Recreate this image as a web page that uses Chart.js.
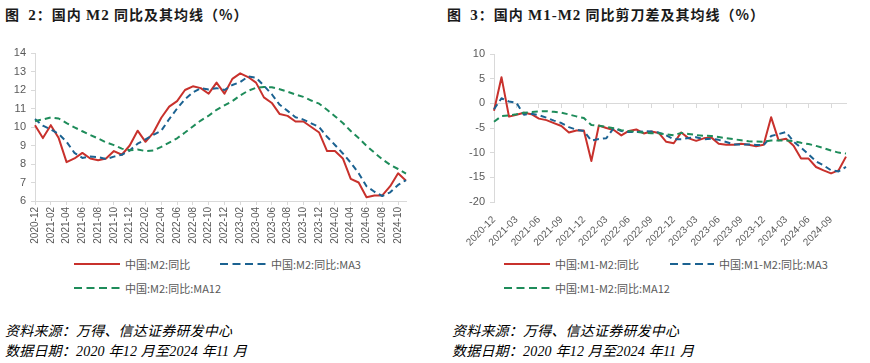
<!DOCTYPE html>
<html>
<head>
<meta charset="utf-8">
<script src="https://cdn.jsdelivr.net/npm/chart.js@4.4.1/dist/chart.umd.min.js"></script>
<style>
  html, body { margin:0; padding:0; background:#ffffff; }
  body { width:870px; height:363px; position:relative; overflow:hidden; }
  .title { position:absolute; top:4px; font-family:"Noto Sans CJK SC", sans-serif; font-weight:700; font-size:14px; letter-spacing:1px; color:#1a1a1a; white-space:nowrap; }
  .title .lat { font-family:"Liberation Serif", serif; font-weight:700; font-size:15px; }
  .box { position:absolute; }
  .leg { position:absolute; font-family:"Noto Sans CJK SC", sans-serif; font-size:11px; color:#595959; white-space:nowrap; line-height:14px; }
  .leg svg { position:absolute; }
  .foot { position:absolute; font-family:"Liberation Serif","Noto Sans CJK SC", serif; font-style:italic; font-size:14px; letter-spacing:0.2px; color:#000; white-space:nowrap; line-height:18px; }
</style>
</head>
<body>
<div class="title" style="left:5px;">图&nbsp;&nbsp;<span class="lat">2</span>：国内&nbsp;<span class="lat">M2</span>&nbsp;同比及其均线（%）</div>
<div class="title" style="left:447px;">图&nbsp;&nbsp;<span class="lat">3</span>：国内&nbsp;<span class="lat">M1-M2</span>&nbsp;同比剪刀差及其均线（%）</div>

<div class="box" style="left:0px; top:40px; width:420px; height:210px;"><canvas id="c1" width="420" height="210"></canvas></div>
<div class="box" style="left:440px; top:40px; width:420px; height:210px;"><canvas id="c2" width="420" height="210"></canvas></div>

<div id="leg1"></div>
<div id="leg2"></div>

<div class="foot" style="left:5px; top:323px;">资料来源：万得、信达证券研发中心</div>
<div class="foot" style="left:5px; top:343px;">数据日期：2020 年12 月至2024 年11 月</div>
<div class="foot" style="left:452px; top:323px;">资料来源：万得、信达证券研发中心</div>
<div class="foot" style="left:452px; top:343px;">数据日期：2020 年12 月至2024 年11 月</div>

<script>
// ---------- data ----------
const months = [
  "2020-12","2021-01","2021-02","2021-03","2021-04","2021-05","2021-06","2021-07","2021-08","2021-09","2021-10","2021-11",
  "2021-12","2022-01","2022-02","2022-03","2022-04","2022-05","2022-06","2022-07","2022-08","2022-09","2022-10","2022-11",
  "2022-12","2023-01","2023-02","2023-03","2023-04","2023-05","2023-06","2023-07","2023-08","2023-09","2023-10","2023-11",
  "2023-12","2024-01","2024-02","2024-03","2024-04","2024-05","2024-06","2024-07","2024-08","2024-09","2024-10","2024-11"
];

const m2Yoy = [10.1,9.4,10.1,9.4,8.1,8.3,8.6,8.3,8.2,8.3,8.7,8.5,
  9.0,9.8,9.2,9.7,10.5,11.1,11.4,12.0,12.2,12.1,11.8,12.4,
  11.8,12.6,12.9,12.7,12.4,11.6,11.3,10.7,10.6,10.3,10.3,10.0,
  9.7,8.7,8.7,8.3,7.2,7.0,6.2,6.3,6.3,6.8,7.5,7.1];

const m2Ma3 = [10.43,10.07,9.87,9.63,9.20,8.60,8.33,8.40,8.37,8.27,8.40,8.50,
  8.73,9.10,9.33,9.57,9.80,10.43,11.00,11.50,11.87,12.10,12.03,12.10,
  12.00,12.27,12.43,12.73,12.67,12.23,11.77,11.20,10.87,10.53,10.40,10.20,
  10.00,9.47,9.03,8.57,8.07,7.50,6.80,6.50,6.27,6.47,6.87,7.13];

const m2Ma12 = [10.33,10.41,10.52,10.46,10.21,9.98,9.77,9.57,9.38,9.17,9.02,8.83,
  8.74,8.78,8.70,8.73,8.93,9.16,9.39,9.70,10.03,10.35,10.61,10.93,
  11.17,11.40,11.71,11.96,12.12,12.16,12.15,12.04,11.91,11.76,11.63,11.43,
  11.26,10.93,10.58,10.22,9.78,9.40,8.98,8.61,8.25,7.96,7.73,7.48];

const spread = [-1.5,5.3,-2.7,-2.3,-1.9,-2.2,-3.1,-3.4,-4.0,-4.6,-5.9,-5.5,
  -5.5,-11.7,-4.5,-5.0,-5.4,-6.5,-5.6,-5.3,-6.1,-5.7,-6.0,-7.8,
  -8.1,-5.9,-7.1,-7.6,-7.1,-6.9,-8.2,-8.4,-8.4,-8.2,-8.4,-8.7,
  -8.4,-2.8,-7.5,-7.2,-8.6,-11.2,-11.2,-12.9,-13.6,-14.2,-13.6,-10.8];

const spreadMa3 = [-1.20,1.03,0.37,0.10,-2.30,-2.13,-2.40,-2.90,-3.50,-4.00,-4.83,-5.33,
  -5.63,-7.57,-7.23,-7.07,-4.97,-5.63,-5.83,-5.80,-5.67,-5.70,-5.93,-6.50,
  -7.30,-7.27,-7.03,-6.87,-7.27,-7.20,-7.40,-7.83,-8.33,-8.33,-8.33,-8.43,
  -8.50,-6.63,-6.23,-5.83,-7.77,-9.00,-10.33,-11.77,-12.57,-13.57,-13.80,-12.87];

const spreadMa12 = [-3.72,-2.58,-2.47,-2.23,-1.93,-1.75,-1.63,-1.59,-1.73,-1.88,-2.25,-2.65,
  -2.98,-4.40,-4.55,-4.78,-5.07,-5.43,-5.63,-5.79,-5.97,-6.06,-6.07,-6.26,
  -6.48,-5.99,-6.21,-6.43,-6.57,-6.60,-6.82,-7.08,-7.27,-7.48,-7.68,-7.75,
  -7.78,-7.52,-7.55,-7.52,-7.64,-8.00,-8.25,-8.63,-9.06,-9.56,-9.99,-10.17];

const leftYTicks = { min: 6, max: 14, step: 1 };
const rightYTicks = { min: -20, max: 10, step: 5 };

const names1 = ["中国:M2:同比", "中国:M2:同比:MA3", "中国:M2:同比:MA12"];
const names2 = ["中国:M1-M2:同比", "中国:M1-M2:同比:MA3", "中国:M1-M2:同比:MA12"];

// ---------- styles ----------
const RED = "#C8312C", BLUE = "#1B6291", GREEN = "#1E8C5A";
const AXIS = "#D9D9D9", TXT = "#595959";
const FONT = { family: "'Liberation Sans', Arial, sans-serif", size: 10 };

function ds(label, data, color, dashed, order) {
  return { label, data, borderColor: color, backgroundColor: color, borderWidth: 2,
    borderDash: dashed ? [6, 4] : [], pointRadius: 0, tension: 0, fill: false, order,
    borderCapStyle: 'butt', borderJoinStyle: 'round' };
}

// ---------- left chart ----------
new Chart(document.getElementById('c1'), {
  type: 'line',
  data: { labels: months, datasets: [
    ds(names1[0], m2Yoy, RED, false, 3),
    ds(names1[1], m2Ma3, BLUE, true, 2),
    ds(names1[2], m2Ma12, GREEN, true, 1)
  ]},
  options: {
    responsive: false, animation: false,
    layout: { padding: { top: 13, right: 14, left: 0, bottom: 0 } },
    plugins: { legend: { display: false }, tooltip: { enabled: false } },
    scales: {
      x: {
        offset: false,
        grid: { drawOnChartArea: false, tickLength: 4, color: c => (c.index % 2 ? 'rgba(0,0,0,0)' : AXIS) },
        border: { color: AXIS },
        ticks: { autoSkip: false, minRotation: 90, maxRotation: 90, padding: 2, color: TXT, font: FONT,
          callback: (v, i) => (i % 2 ? '' : months[i]) },
        afterFit: s => { s.height = 49; }
      },
      y: {
        min: leftYTicks.min, max: leftYTicks.max,
        grid: { drawOnChartArea: false, tickLength: 4, color: AXIS },
        border: { color: AXIS },
        ticks: { stepSize: leftYTicks.step, padding: 5, color: TXT, font: { family: FONT.family, size: 11 } },
        afterFit: s => { s.width = 35; }
      }
    }
  }
});

// ---------- right chart ----------
new Chart(document.getElementById('c2'), {
  type: 'line',
  data: { labels: months, datasets: [
    ds(names2[0], spread, RED, false, 3),
    ds(names2[1], spreadMa3, BLUE, true, 2),
    ds(names2[2], spreadMa12, GREEN, true, 1)
  ]},
  options: {
    responsive: false, animation: false,
    layout: { padding: { top: 14, right: 14, left: 0, bottom: 0 } },
    plugins: { legend: { display: false }, tooltip: { enabled: false } },
    scales: {
      x: {
        offset: false,
        grid: { display: false },
        border: { display: false },
        ticks: { autoSkip: false, minRotation: 45, maxRotation: 45, padding: 4, color: TXT, font: FONT,
          callback: (v, i) => (i % 3 ? '' : months[i]) },
        afterFit: s => { s.height = 48; }
      },
      x2: {
        type: 'category', axis: 'x', position: { y: 0 }, offset: false,
        grid: { drawOnChartArea: false, tickLength: 4, color: c => (c.index % 3 ? 'rgba(0,0,0,0)' : AXIS) },
        border: { color: AXIS },
        ticks: { display: false, autoSkip: false }
      },
      y: {
        min: rightYTicks.min, max: rightYTicks.max,
        grid: { drawOnChartArea: false, tickLength: 4, color: AXIS },
        border: { color: AXIS },
        ticks: { stepSize: rightYTicks.step, padding: 5, color: TXT, font: { family: FONT.family, size: 11 } },
        afterFit: s => { s.width = 54; }
      }
    }
  }
});

// ---------- legends (HTML) ----------
function legendItem(parent, x, y, w, color, dashed, text) {
  const d = document.createElement('div');
  d.className = 'leg';
  d.style.left = x + 'px'; d.style.top = (y - 7) + 'px';
  d.style.paddingLeft = (w + 5) + 'px';
  d.innerHTML = '<svg width="' + w + '" height="6" style="left:0;top:4px"><line x1="0" y1="3" x2="' + w +
    '" y2="3" stroke="' + color + '" stroke-width="2.2" ' + (dashed ? 'stroke-dasharray="8,4.5"' : '') + '/></svg>' + text;
  parent.appendChild(d);
}
const L1 = document.getElementById('leg1'), L2 = document.getElementById('leg2');
legendItem(L1, 74, 264, 46, RED, false, names1[0]);
legendItem(L1, 220, 264, 46, BLUE, true, names1[1]);
legendItem(L1, 74, 288, 46, GREEN, true, names1[2]);
legendItem(L2, 504, 264, 46, RED, false, names2[0]);
legendItem(L2, 670, 264, 44, BLUE, true, names2[1]);
legendItem(L2, 504, 288, 46, GREEN, true, names2[2]);
</script>
</body>
</html>
